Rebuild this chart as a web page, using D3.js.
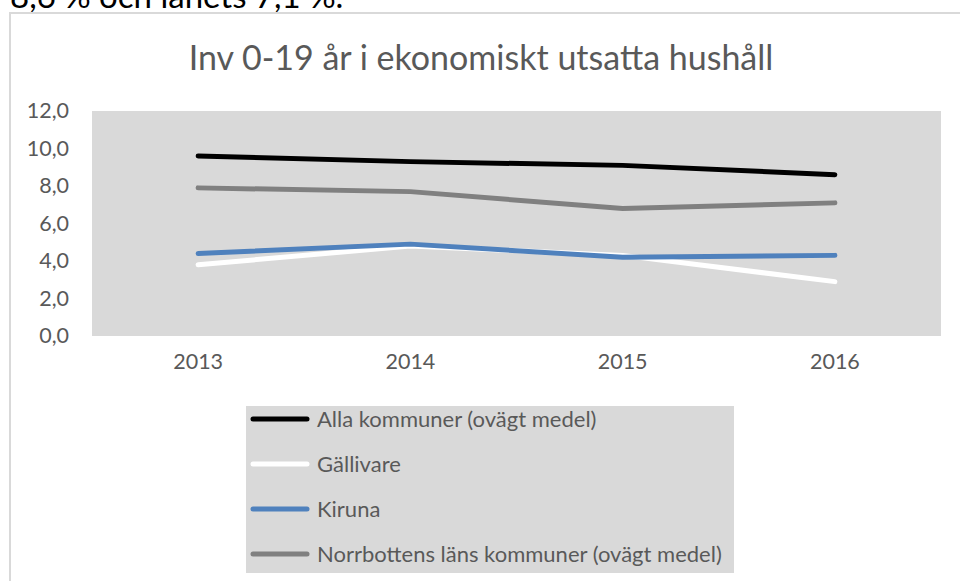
<!DOCTYPE html>
<html>
<head>
<meta charset="utf-8">
<script src="https://cdn.jsdelivr.net/npm/d3@7"></script>
<style>
  html, body { margin: 0; padding: 0; background: #fff; }
  svg { display: block; font-family: Lato, "Open Sans", sans-serif; }
</style>
</head>
<body>
<svg id="chart" width="960" height="581"></svg>
<script>
const years = ["2013", "2014", "2015", "2016"];
const seriesNames = [
  "Alla kommuner (ovägt medel)",
  "Gällivare",
  "Kiruna",
  "Norrbottens läns kommuner (ovägt medel)"
];
const allaKommuner = [9.6, 9.3, 9.1, 8.6];
const gallivare = [3.8, 4.8, 4.3, 2.9];
const kiruna = [4.4, 4.9, 4.2, 4.3];
const norrbotten = [7.9, 7.7, 6.8, 7.1];
const seriesColors = ["#000000", "#ffffff", "#4f81bd", "#808080"];
const yTicks = [0, 2, 4, 6, 8, 10, 12];
const titleText = "Inv 0-19 år i ekonomiskt utsatta hushåll";
const aboveText = "8,6 % och länets 7,1 %.";

const seriesValues = [allaKommuner, gallivare, kiruna, norrbotten];

const svg = d3.select("#chart");

// text from the surrounding document, cut off at top
svg.append("text")
  .attr("x", 10).attr("y", 8)
  .attr("font-size", 33)
  .attr("fill", "#000")
  .text(aboveText);

// chart frame
svg.append("rect")
  .attr("x", 10).attr("y", 13)
  .attr("width", 960).attr("height", 600)
  .attr("fill", "#fff")
  .attr("stroke", "#d9d9d9").attr("stroke-width", 2);

// title
svg.append("text")
  .attr("x", 481).attr("y", 70)
  .attr("text-anchor", "middle")
  .attr("font-size", 34)
  .attr("fill", "#595959")
  .text(titleText);

const plot = { left: 92, right: 941, top: 111, bottom: 336 };

const x = d3.scaleBand().domain(years).range([plot.left, plot.right]).padding(0);
const y = d3.scaleLinear().domain([0, 12]).range([plot.bottom, plot.top]);

svg.append("rect")
  .attr("x", plot.left).attr("y", plot.top)
  .attr("width", plot.right - plot.left).attr("height", plot.bottom - plot.top)
  .attr("fill", "#d9d9d9");

// y axis
const yAxis = svg.append("g")
  .attr("transform", `translate(${plot.left - 23},0)`)
  .call(d3.axisLeft(y).tickValues(yTicks).tickSize(0).tickPadding(0)
    .tickFormat(d => d3.format(".1f")(d).replace(".", ",")));
yAxis.select(".domain").remove();
yAxis.selectAll("text").attr("font-size", 21.5).attr("fill", "#595959")
  .attr("font-family", "Lato, sans-serif");

// x axis
const xAxis = svg.append("g")
  .attr("transform", `translate(0,${plot.bottom})`)
  .call(d3.axisBottom(x).tickSize(0).tickPadding(18));
xAxis.select(".domain").remove();
xAxis.selectAll("text").attr("font-size", 21.5).attr("fill", "#595959")
  .attr("font-family", "Lato, sans-serif");

const line = d3.line()
  .x((d, i) => x(years[i]) + x.bandwidth() / 2)
  .y(d => y(d));

seriesValues.forEach((vals, i) => {
  svg.append("path")
    .datum(vals)
    .attr("d", line)
    .attr("fill", "none")
    .attr("stroke", seriesColors[i])
    .attr("stroke-width", 5)
    .attr("stroke-linecap", "round")
    .attr("stroke-linejoin", "round");
});

// legend
const legend = svg.append("g");
legend.append("rect")
  .attr("x", 246).attr("y", 406)
  .attr("width", 488).attr("height", 167)
  .attr("fill", "#d9d9d9");

seriesNames.forEach((name, i) => {
  const ly = 419 + i * 45;
  legend.append("line")
    .attr("x1", 253).attr("x2", 307)
    .attr("y1", ly).attr("y2", ly)
    .attr("stroke", seriesColors[i])
    .attr("stroke-width", 5)
    .attr("stroke-linecap", "round");
  legend.append("text")
    .attr("x", 317).attr("y", ly)
    .attr("dy", "0.35em")
    .attr("font-size", 22)
    .attr("fill", "#595959")
    .text(name);
});
</script>
</body>
</html>
